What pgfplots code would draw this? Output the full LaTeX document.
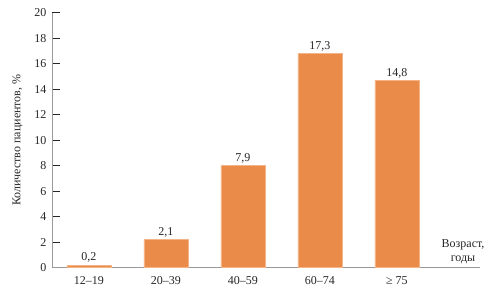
\documentclass[border=0pt]{standalone}
\usepackage{pgfplots}
\pgfplotsset{compat=1.18}
\usepackage{pgfplotstable}
\usepackage{fontspec}
\setmainfont{Liberation Serif}
\definecolor{barc}{RGB}{235,139,74}
\definecolor{bare}{RGB}{245,180,135}
\pgfplotstableread{
x y lbl
0 0.2 0,2
1 2.2 2,1
2 8.0 7,9
3 16.8 17,3
4 14.7 14,8
}\datatab
\begin{document}
\begin{tikzpicture}
\begin{axis}[
  scale only axis,
  width=428pt, height=255pt,
  xmin=-0.48, xmax=5.08,
  ymin=0, ymax=20,
  ytick={0,2,...,20},
  xtick={0,1,2,3,4},
  xticklabels={12–19,20–39,40–59,60–74,≥ 75},
  axis line style={draw=none},
  ytick pos=left,
  tick align=inside,
  major tick length=8pt,
  ytick style={draw=black!85, line width=0.6pt},
  xtick style={draw=none},
  x tick label style={yshift=-5pt},
  y tick label style={xshift=-2pt},
  tick label style={font=\fontsize{12}{14}\selectfont, text=black!85},
  /pgf/number format/assume math mode=true,
  ylabel={Количество пациентов, \%},
  ylabel style={font=\fontsize{12}{14}\selectfont, text=black!85},
  every axis y label/.append style={at={(ticklabel cs:0.5)}, yshift=5pt},
  clip=false,
]
\draw[gray!80, line width=0.6pt] (rel axis cs:0,0) -- (rel axis cs:1,0);
\draw[gray!80, line width=0.6pt] (rel axis cs:0,0) -- (rel axis cs:0,1);
\addplot[ybar, bar width=44pt, fill=barc, draw=bare, line width=0.6pt,
  point meta=explicit symbolic,
  nodes near coords,
  nodes near coords style={font=\fontsize{12}{14}\selectfont, text=black!85, anchor=south, inner sep=2pt},
] table[x=x, y=y, meta=lbl] {\datatab};
\node[align=center, font=\fontsize{12}{14}\selectfont, text=black!85] at (axis cs:4.86,1.25) {Возраст,\\годы};
\end{axis}
\pgfresetboundingbox
\path ([shift={(-52pt,-39pt)}]current axis.south west) rectangle ([shift={(6pt,12.7pt)}]current axis.north east);
\end{tikzpicture}
\end{document}
